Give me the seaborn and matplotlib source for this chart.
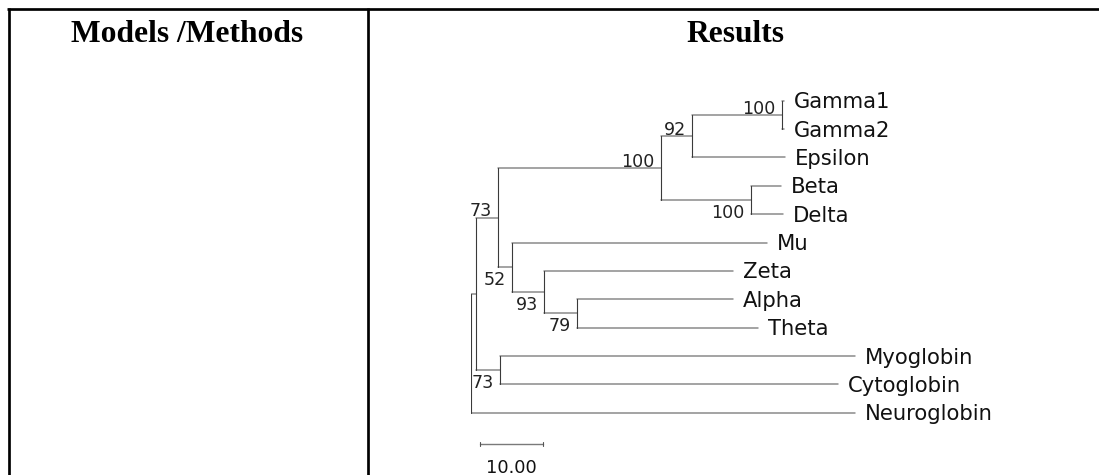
import matplotlib
matplotlib.use("Agg")
import matplotlib.pyplot as plt
from matplotlib.lines import Line2D
import numpy as np
import pandas as pd
import seaborn as sns

# ---------------- data (tree in preorder) ----------------
NODE = ["root", "n_a", "n_b", "n_d", "n_f", "n_h", "Gamma1", "Gamma2", "Epsilon",
        "n_g", "Beta", "Delta", "n_e", "Mu", "n_i", "Zeta", "n_j", "Alpha", "Theta",
        "n_c", "Myoglobin", "Cytoglobin", "Neuroglobin"]
PARENT = [None, "root", "n_a", "n_b", "n_d", "n_f", "n_h", "n_h", "n_f",
          "n_d", "n_g", "n_g", "n_b", "n_e", "n_e", "n_i", "n_i", "n_j", "n_j",
          "n_a", "n_c", "n_c", "root"]
BRANCH = [0.0, 0.80, 3.46, 26.0, 5.04, 14.26, 0.37, 0.37, 14.78,
          14.35, 4.78, 5.20, 2.33, 40.57, 5.10, 30.14, 5.26, 24.88, 28.87,
          3.75, 56.70, 54.04, 61.24]
BOOTSTRAP = [None, None, 73, 100, 92, 100, None, None, None,
             100, None, None, 52, None, 93, None, 79, None, None,
             73, None, None, None]
SCALE_LEN = 10.0
SCALE_LABEL = "10.00"
HEADERS = ["Models /Methods", "Results"]

# ---------------- layout ----------------
W, H, DPI = 1099, 475, 100
PX_PER_UNIT = 6.27
ROW_PX = 28.36
ROOT_PX = 471.0
FIRST_ROW_PX = 100.7

sns.set_theme(style="white")
plt.rcParams["font.family"] = ["DejaVu Sans"]

fig = plt.figure(figsize=(W / DPI, H / DPI), dpi=DPI)
fig.patch.set_facecolor("white")

# tree axes: x in distance units, y in leaf rows (0 = top)
top_px = FIRST_ROW_PX - ROW_PX
ax = fig.add_axes([ROOT_PX / W, 0, 1 - ROOT_PX / W, 1 - top_px / H])
ax.set_xlim(0, (W - ROOT_PX) / PX_PER_UNIT)
ax.set_ylim((H - top_px) / ROW_PX - 1, -1)
ax.set_axis_off()

# ---------------- compute tree geometry ----------------
children = {n: [] for n in NODE}
par = dict(zip(NODE, PARENT))
blen = dict(zip(NODE, BRANCH))
boot = dict(zip(NODE, BOOTSTRAP))
for n, p in zip(NODE, PARENT):
    if p is not None:
        children[p].append(n)

xpos, ypos = {}, {}
leaf_counter = [0]


def place(n, x0):
    xpos[n] = x0 + blen[n]
    if not children[n]:
        ypos[n] = float(leaf_counter[0])
        leaf_counter[0] += 1
    else:
        for c in children[n]:
            place(c, xpos[n])
        ypos[n] = (ypos[children[n][0]] + ypos[children[n][-1]]) / 2


place("root", 0.0)

hrows, vrows = [], []
for i, n in enumerate(NODE):
    if par[n] is not None:
        hrows += [dict(seg=i, x=xpos[par[n]], y=ypos[n]), dict(seg=i, x=xpos[n], y=ypos[n])]
    if children[n]:
        c0, c1 = children[n][0], children[n][-1]
        vrows += [dict(seg=i, x=xpos[n], y=ypos[c0]), dict(seg=i, x=xpos[n], y=ypos[c1])]
hdf = pd.DataFrame(hrows)
vdf = pd.DataFrame(vrows)

sns.lineplot(data=hdf, x="x", y="y", units="seg", estimator=None, sort=False,
             color="#8a8a8a", lw=1.1, ax=ax, legend=False)
sns.lineplot(data=vdf, x="x", y="y", units="seg", estimator=None, sort=False,
             color="#3a3a3a", lw=0.8, ax=ax, legend=False)
ax.set_xlim(0, (W - ROOT_PX) / PX_PER_UNIT)
ax.set_ylim((H - top_px) / ROW_PX - 1, -1)
ax.set_axis_off()

pt = 0.72  # points per pixel at 100 dpi

# leaf labels
for n in NODE:
    if not children[n]:
        ax.annotate(n, xy=(xpos[n], ypos[n]), xytext=(10 * pt, -7.6 * pt),
                    textcoords="offset points", ha="left", va="baseline",
                    fontsize=15.2, color="#111111", annotation_clip=False)

# bootstrap labels: above branch for upper child, below for lower child
for n in NODE:
    if boot[n] is None:
        continue
    siblings = children[par[n]]
    upper = siblings.index(n) == 0
    dy = 1.2 * pt if upper else -17.8 * pt
    ax.annotate(str(boot[n]), xy=(xpos[n], ypos[n]), xytext=(-6 * pt, dy),
                textcoords="offset points", ha="right", va="baseline",
                fontsize=12.6, color="#222222", annotation_clip=False)

# scale bar
sb_x0 = 1.5
sb_y = ypos["Neuroglobin"] + (444.3 - 412.7) / ROW_PX
sdf = pd.DataFrame(dict(seg=[0, 0], x=[sb_x0, sb_x0 + SCALE_LEN], y=[sb_y, sb_y]))
sns.lineplot(data=sdf, x="x", y="y", units="seg", estimator=None, sort=False,
             color="#7a7a7a", lw=1.0, ax=ax, legend=False)
for xe in (sb_x0, sb_x0 + SCALE_LEN):
    ax.annotate("", xy=(xe, sb_y), xytext=(0, 0), textcoords="offset points")
    ax.plot([xe, xe], [sb_y - 2.2 / ROW_PX, sb_y + 2.2 / ROW_PX], color="#555555", lw=0.8)
ax.annotate(SCALE_LABEL, xy=(sb_x0 + SCALE_LEN / 2, sb_y), xytext=(0, -28.4 * pt),
            textcoords="offset points", ha="center", va="baseline",
            fontsize=12.8, color="#111111", annotation_clip=False)
ax.set_xlim(0, (W - ROOT_PX) / PX_PER_UNIT)
ax.set_ylim((H - top_px) / ROW_PX - 1, -1)
ax.set_axis_off()

# ---------------- table frame ----------------
def fx(px):
    return px / W


def fy(py):
    return 1 - py / H


border_lw = 2.7 * pt
fig.add_artist(Line2D([fx(7.3), fx(1099)], [fy(9.3), fy(9.3)], transform=fig.transFigure,
                      color="black", lw=border_lw, solid_capstyle="butt"))
for xb in (8.7, 368.3):
    fig.add_artist(Line2D([fx(xb), fx(xb)], [fy(8.0), fy(476)], transform=fig.transFigure,
                          color="black", lw=border_lw, solid_capstyle="butt"))

for txt, cx in zip(HEADERS, (187.5, 735.5)):
    fig.text(fx(cx), fy(41.7), txt, ha="center", va="baseline", fontsize=22.7,
             fontweight="bold", family=["Liberation Serif", "DejaVu Serif"], color="black")

fig.savefig("out.png", dpi=DPI, facecolor="white")
